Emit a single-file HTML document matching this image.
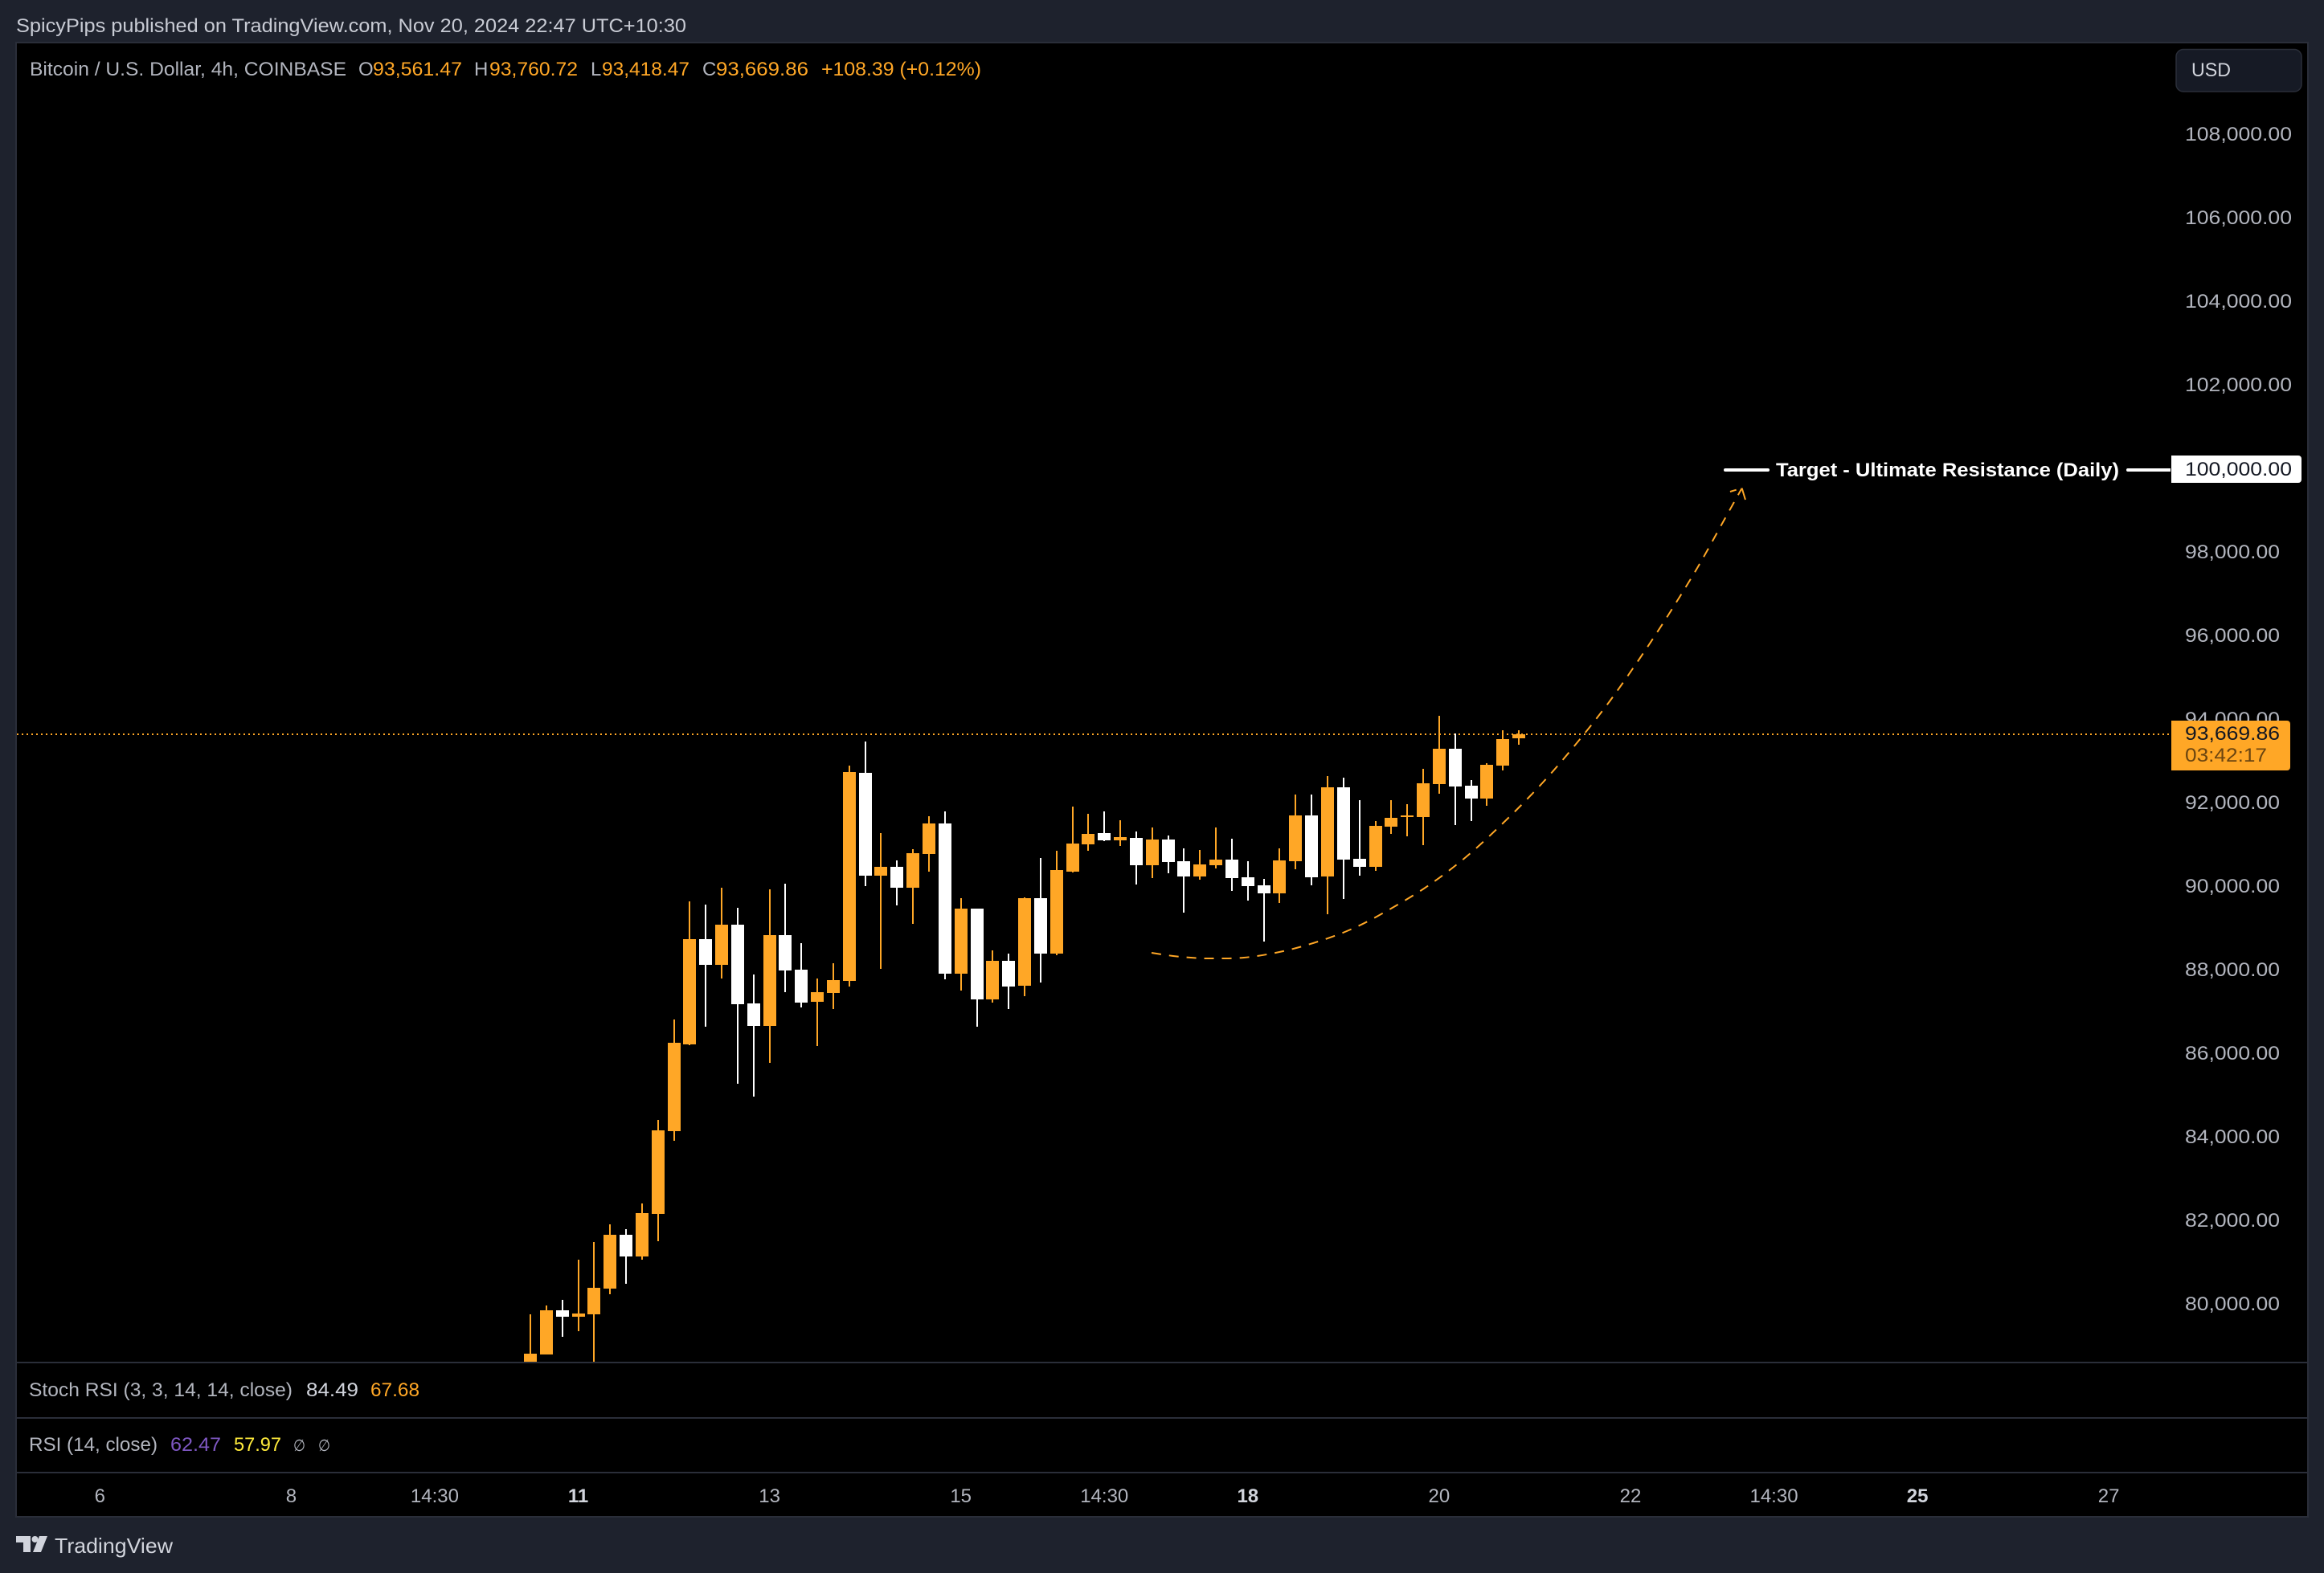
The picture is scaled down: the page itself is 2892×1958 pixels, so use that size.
<!DOCTYPE html>
<html lang="en">
<head>
<meta charset="utf-8">
<title>BTC/USD 4h chart</title>
<style>
  html,body{margin:0;padding:0;background:#1e222d;}
  svg{display:block;}
  text{font-family:"Liberation Sans","DejaVu Sans",sans-serif;font-size:24px;}
</style>
</head>
<body>
<svg id="chart" xmlns="http://www.w3.org/2000/svg" width="2892" height="1958" viewBox="0 0 2892 1958">
  <defs>
    <clipPath id="main-pane-clip"><rect x="21" y="54" width="2680" height="1641"/></clipPath>
  </defs>
  <rect x="0" y="0" width="2892" height="1958" fill="#1e222d"/>
  <text x="20" y="40" fill="#c8cbd4" textLength="834" lengthAdjust="spacingAndGlyphs">SpicyPips published on TradingView.com, Nov 20, 2024 22:47 UTC+10:30</text>

  <rect x="20" y="53" width="2852" height="1835" fill="#000000" stroke="#2a2e39" stroke-width="2"/>
  <rect x="20" y="1695" width="2852" height="2" fill="#2a2e39"/>
  <rect x="20" y="1764" width="2852" height="2" fill="#2a2e39"/>
  <rect x="20" y="1832" width="2852" height="2" fill="#2a2e39"/>

  <g id="price-axis"></g>
  <g id="main-pane" clip-path="url(#main-pane-clip)">
    <line id="last-price-line" x1="21" x2="2700" stroke="#ffa726" stroke-width="2" stroke-dasharray="2 4"/>
    <g id="candles"></g>
    <path id="projection-curve" fill="none" stroke="#ffa726" stroke-width="2" stroke-dasharray="12 10"/>
    <path id="projection-arrow-left" fill="none" stroke="#ffa726" stroke-width="2"/>
    <path id="projection-arrow-right" fill="none" stroke="#ffa726" stroke-width="2"/>
    <line id="target-line-left" x1="2147" x2="2200" stroke="#ffffff" stroke-width="4" stroke-linecap="round"/>
    <line id="target-line-right" x1="2648" x2="2702" stroke="#ffffff" stroke-width="4" stroke-linecap="round"/>
    <text id="target-text" x="2210" fill="#ffffff" font-weight="700" textLength="427" lengthAdjust="spacingAndGlyphs">Target - Ultimate Resistance (Daily)</text>
  </g>

  <text x="37" y="94" fill="#b2b5be" textLength="394" lengthAdjust="spacingAndGlyphs">Bitcoin / U.S. Dollar, 4h, COINBASE</text>
  <text x="446" y="94" fill="#b2b5be">O</text>
  <text x="464" y="94" fill="#ffa726" textLength="111" lengthAdjust="spacingAndGlyphs">93,561.47</text>
  <text x="590" y="94" fill="#b2b5be">H</text>
  <text x="609" y="94" fill="#ffa726" textLength="110" lengthAdjust="spacingAndGlyphs">93,760.72</text>
  <text x="735" y="94" fill="#b2b5be">L</text>
  <text x="749" y="94" fill="#ffa726" textLength="109" lengthAdjust="spacingAndGlyphs">93,418.47</text>
  <text x="874" y="94" fill="#b2b5be">C</text>
  <text x="891" y="94" fill="#ffa726" textLength="115" lengthAdjust="spacingAndGlyphs">93,669.86</text>
  <text x="1022" y="94" fill="#ffa726" textLength="199" lengthAdjust="spacingAndGlyphs">+108.39 (+0.12%)</text>

  <g>
    <rect x="2708" y="61.5" width="156" height="52.5" rx="9" fill="#161a25" stroke="#2a2e39" stroke-width="1.5"/>
    <text x="2727" y="95" fill="#d1d4dc" textLength="49" lengthAdjust="spacingAndGlyphs">USD</text>
  </g>

  <path d="M2702 567H2860a4 4 0 0 1 4 4V597a4 4 0 0 1 -4 4H2702Z" fill="#ffffff"/>
  <text id="target-price-text" x="2719" y="592" fill="#131722" textLength="133" lengthAdjust="spacingAndGlyphs"></text>
  <path d="M2702 897H2846a4 4 0 0 1 4 4V955a4 4 0 0 1 -4 4H2702Z" fill="#ffa726"/>
  <text id="last-price-text" x="2719" y="921" fill="#131722" textLength="118" lengthAdjust="spacingAndGlyphs"></text>
  <text x="2719" y="948" fill="#6b4510" textLength="102" lengthAdjust="spacingAndGlyphs">03:42:17</text>

  <text x="36" y="1738" fill="#b2b5be" textLength="328" lengthAdjust="spacingAndGlyphs">Stoch RSI (3, 3, 14, 14, close)</text>
  <text x="381" y="1738" fill="#d1d4dc" textLength="65" lengthAdjust="spacingAndGlyphs">84.49</text>
  <text x="461" y="1738" fill="#ffa726" textLength="61" lengthAdjust="spacingAndGlyphs">67.68</text>
  <text x="36" y="1806" fill="#b2b5be" textLength="160" lengthAdjust="spacingAndGlyphs">RSI (14, close)</text>
  <text x="212" y="1806" fill="#7e57c2" textLength="63" lengthAdjust="spacingAndGlyphs">62.47</text>
  <text x="291" y="1806" fill="#ffeb3b" textLength="59" lengthAdjust="spacingAndGlyphs">57.97</text>
  <text x="365" y="1806" fill="#b2b5be" style="font-family:'DejaVu Sans',sans-serif;font-size:20px" textLength="15" lengthAdjust="spacingAndGlyphs">∅</text>
  <text x="396" y="1806" fill="#b2b5be" style="font-family:'DejaVu Sans',sans-serif;font-size:20px" textLength="15" lengthAdjust="spacingAndGlyphs">∅</text>

  <g id="time-axis"></g>

  <g>
    <path d="M20 1912H38V1932H29V1920H20Z" fill="#d1d4dc"/>
    <circle cx="43.5" cy="1916" r="4" fill="#d1d4dc"/>
    <path d="M49 1912H59L51 1932H41Z" fill="#d1d4dc"/>
    <text x="68" y="1933" fill="#d1d4dc" style="font-size:26px" textLength="147" lengthAdjust="spacingAndGlyphs">TradingView</text>
  </g>
</svg>

<script>
// Bar times (day + local time), one per 4h candle
const categories = [
  "10 14:30","10 18:30","10 22:30",
  "11 02:30","11 06:30","11 10:30","11 14:30","11 18:30","11 22:30",
  "12 02:30","12 06:30","12 10:30","12 14:30","12 18:30","12 22:30",
  "13 02:30","13 06:30","13 10:30","13 14:30","13 18:30","13 22:30",
  "14 02:30","14 06:30","14 10:30","14 14:30","14 18:30","14 22:30",
  "15 02:30","15 06:30","15 10:30","15 14:30","15 18:30","15 22:30",
  "16 02:30","16 06:30","16 10:30","16 14:30","16 18:30","16 22:30",
  "17 02:30","17 06:30","17 10:30","17 14:30","17 18:30","17 22:30",
  "18 02:30","18 06:30","18 10:30","18 14:30","18 18:30","18 22:30",
  "19 02:30","19 06:30","19 10:30","19 14:30","19 18:30","19 22:30",
  "20 02:30","20 06:30","20 10:30","20 14:30","20 18:30","20 22:30"
];
const opens = [
  78298,78818,79875,79722,79779,80395,81683,81164,82183,84164,
  86241,88760,88145,89106,87222,86683,88856,88029,87260,87472,
  87760,92741,90279,90491,89991,90798,91529,87933,89491,87318,
  88241,87645,89741,88414,90375,91029,91298,91125,91183,90529,
  91145,90625,90260,90529,90664,90241,90048,89856,90625,91722,
  90260,92395,90683,90491,91452,91683,91683,92472,93318,92433,
  92125,92914,93561.47
];
const highs = [
  79779,79991,80125,81087,81510,81933,81818,82433,84433,86837,
  89664,89587,89991,89510,87914,89952,90087,88664,87818,88183,
  92914,93491,91298,90645,90914,91702,91818,89741,89491,88491,
  88414,89760,90702,90875,91933,91760,91818,91606,91337,91433,
  91241,90933,90895,91433,91164,90625,90202,90933,92222,92222,
  92664,92625,92087,91587,92087,91991,92837,94106,93683,92568,
  92971,93760,93760.72
];
const lows = [
  78240,78818,79241,79375,78300,80260,80510,81087,81529,83933,
  86221,86664,87818,85298,84991,85798,87491,87125,86202,87087,
  87625,90029,88048,89568,89125,90375,87798,87529,86664,87241,
  87087,87395,87722,88375,90356,90875,91106,90991,90068,90222,
  90337,89395,90183,90452,89914,89683,88702,89625,90433,90048,
  89356,89722,90279,90395,91279,91222,91010,92241,91491,91587,
  91952,92798,93418.47
];
const closes = [
  78837,79875,79722,79798,80414,81683,81164,82202,84183,86279,
  88760,88145,89106,87202,86683,88856,88010,87241,87491,87779,
  92760,90279,90491,89991,90818,91529,87933,89491,87318,88241,
  87625,89741,88414,90414,91048,91279,91125,91202,90529,91145,
  90606,90260,90548,90664,90222,90029,89856,90645,91722,90241,
  92395,90664,90491,91472,91664,91722,92491,93318,92414,92125,
  92933,93548,93669.86
];

// Price axis
const priceTicks = [108000,106000,104000,102000,98000,96000,94000,92000,90000,88000,86000,84000,82000,80000];
const targetPrice = 100000;

// Time axis
const timeTickLabels = ["6","8","14:30","11","13","15","14:30","18","20","22","14:30","25","27"];
const timeTickBars = [-27,-15,-6,3,15,27,36,45,57,69,78,87,99];
const timeTickStrong = ["11","18","25"];

// Hand-drawn projection curve, in chart coordinates (bar number, price)
const curveBars = [38.96,40.32,41.43,42.54,44.76,46.98,49.09,51.21,53.17,56.05,58.67,61.14,63.46,65.63,67.69,69.6,71.42,73.19,74.8,75.99];
const curvePrices = [88433,88356,88318,88298,88318,88452,88664,88952,89318,89972,90722,91587,92491,93452,94452,95491,96548,97645,98741,99554];

const SVG_NS = "http://www.w3.org/2000/svg";

function xScale(bar) { return 660 + 19.84 * bar; }
function yScale(price) { return 584.5 + (100000 - price) * 0.052; }
function fmtPrice(p) {
  return p.toLocaleString("en-US", { minimumFractionDigits: 2, maximumFractionDigits: 2 });
}

const candleGroup = document.getElementById("candles");
categories.forEach(function (label, i) {
  const c = Math.round(xScale(i));
  const up = closes[i] >= opens[i];
  const color = up ? "#ffa726" : "#ffffff";
  const top = Math.round(yScale(Math.max(opens[i], closes[i])));
  const bottom = Math.round(yScale(Math.min(opens[i], closes[i])));
  const hi = Math.round(yScale(highs[i]));
  const lo = Math.round(yScale(lows[i]));

  const wick = document.createElementNS(SVG_NS, "rect");
  wick.setAttribute("x", c - 1);
  wick.setAttribute("y", hi);
  wick.setAttribute("width", 2);
  wick.setAttribute("height", Math.max(lo - hi, 1));
  wick.setAttribute("fill", color);
  wick.setAttribute("shape-rendering", "crispEdges");
  
  
  candleGroup.appendChild(wick);

  const body = document.createElementNS(SVG_NS, "rect");
  body.setAttribute("x", c - 8);
  body.setAttribute("y", top);
  body.setAttribute("width", 16);
  body.setAttribute("height", Math.max(bottom - top, 2));
  body.setAttribute("fill", color);
  body.setAttribute("shape-rendering", "crispEdges");
  
  
  const tip = document.createElementNS(SVG_NS, "title");
  tip.textContent = "Nov " + label;
  body.appendChild(tip);
  candleGroup.appendChild(body);
});

// Price axis labels
const priceAxis = document.getElementById("price-axis");
priceTicks.forEach(function (p) {
  const t = document.createElementNS(SVG_NS, "text");
  t.setAttribute("x", 2719);
  t.setAttribute("y", Math.round(yScale(p)) + 6);
  t.setAttribute("fill", "#b2b5be");
  t.setAttribute("textLength", p >= 100000 ? 133 : 118);
  t.setAttribute("lengthAdjust", "spacingAndGlyphs");
  
  
  t.textContent = fmtPrice(p);
  priceAxis.appendChild(t);
});

// Time axis labels
const timeAxis = document.getElementById("time-axis");
timeTickLabels.forEach(function (label, i) {
  const t = document.createElementNS(SVG_NS, "text");
  const strong = timeTickStrong.indexOf(label) >= 0;
  t.setAttribute("x", xScale(timeTickBars[i]));
  t.setAttribute("y", 1870);
  t.setAttribute("text-anchor", "middle");
  t.setAttribute("fill", strong ? "#d1d4dc" : "#b2b5be");
  if (strong) t.setAttribute("font-weight", "700");
  
  
  t.textContent = label;
  timeAxis.appendChild(t);
});

// Last price line + tag
const lastClose = closes[closes.length - 1];
const lastY = Math.round(yScale(lastClose));
const lastLine = document.getElementById("last-price-line");
lastLine.setAttribute("y1", lastY);
lastLine.setAttribute("y2", lastY);
document.getElementById("last-price-text").textContent = fmtPrice(lastClose);

// Target line + tag
const targetY = Math.round(yScale(targetPrice));
["target-line-left", "target-line-right"].forEach(function (id) {
  const l = document.getElementById(id);
  l.setAttribute("y1", targetY);
  l.setAttribute("y2", targetY);
});
document.getElementById("target-text").setAttribute("y", targetY + 8);
document.getElementById("target-price-text").textContent = fmtPrice(targetPrice);

// Projection curve: Catmull-Rom spline through the anchors
const pts = curveBars.map(function (b, i) { return [xScale(b), yScale(curvePrices[i])]; });
let d = "M" + pts[0][0].toFixed(1) + " " + pts[0][1].toFixed(1);
for (let i = 0; i < pts.length - 1; i++) {
  const p0 = pts[Math.max(i - 1, 0)], p1 = pts[i], p2 = pts[i + 1], p3 = pts[Math.min(i + 2, pts.length - 1)];
  const c1x = p1[0] + (p2[0] - p0[0]) / 6, c1y = p1[1] + (p2[1] - p0[1]) / 6;
  const c2x = p2[0] - (p3[0] - p1[0]) / 6, c2y = p2[1] - (p3[1] - p1[1]) / 6;
  d += "C" + c1x.toFixed(1) + " " + c1y.toFixed(1) + " " + c2x.toFixed(1) + " " + c2y.toFixed(1) + " " + p2[0].toFixed(1) + " " + p2[1].toFixed(1);
}
document.getElementById("projection-curve").setAttribute("d", d);

// Arrowhead barbs, a fixed pixel size off the curve tip
const tipPt = pts[pts.length - 1];
document.getElementById("projection-arrow-left").setAttribute("d",
  "M" + (tipPt[0] - 14.7) + " " + (tipPt[1] + 4.3) + "L" + (tipPt[0] - 7) + " " + (tipPt[1] + 2));
document.getElementById("projection-arrow-right").setAttribute("d",
  "M" + tipPt[0] + " " + tipPt[1] + "L" + (tipPt[0] + 4.3) + " " + (tipPt[1] + 14.3));
</script>
</body>
</html>
